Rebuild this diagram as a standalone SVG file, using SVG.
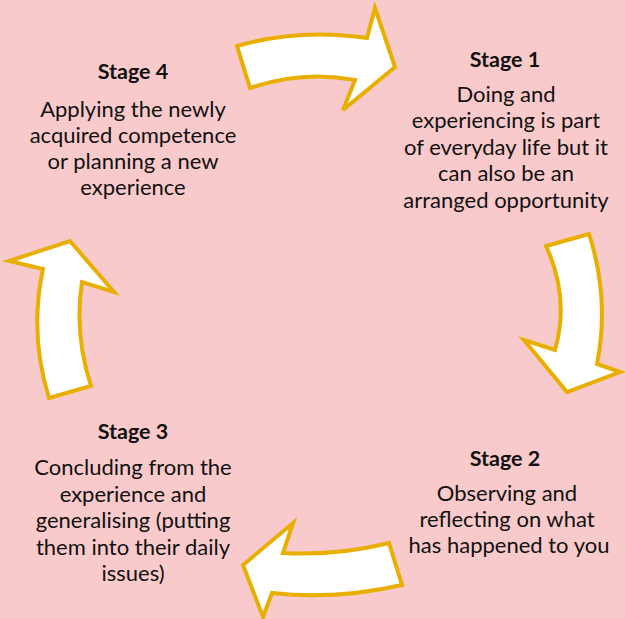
<svg xmlns="http://www.w3.org/2000/svg" width="625" height="619" viewBox="0 0 625 619">
<style>
.bg{fill:#F9CACB}
.arrow{fill:#FFFFFF;stroke:#E8AF00;stroke-width:4;stroke-linejoin:miter}
text{font-family:Lato,"Open Sans","Liberation Sans",sans-serif;fill:#111111;text-anchor:middle}
.h{font-weight:bold;font-size:21.5px}
.b{font-size:22px}
</style>
<rect class="bg" x="0" y="0" width="625" height="619"/>
<g id="connectors">
<path id="arrow1" class="arrow" d="M237,46 Q300,28 367,38 L375,8 L395,67 L343,110 L355,80 Q303,70 250,88 Z"/>
<path id="arrow2" class="arrow" d="M546,246 L589,234 Q610,299 597,364 L620,372 L567,392 L524,340 L555,350 Q570,298 546,246 Z"/>
<path id="arrow3" class="arrow" d="M389,543 L402,585 Q337,600 272,593 L263,617 L243,565 L293,523 L283,553 Q336,556 389,543 Z"/>
<path id="arrow4" class="arrow" d="M49,398 L91,386 Q74,334 82,282 L114,292 L70,241 L9,261 L43,269 Q29,334 49,398 Z"/>
</g>
<g id="stage1">
<text class="h" x="505" y="67">Stage 1</text>
<text class="b" x="506" y="102">Doing and</text>
<text class="b" x="506" y="128">experiencing is part</text>
<text class="b" x="506" y="155">of everyday life but it</text>
<text class="b" x="506" y="181">can also be an</text>
<text class="b" x="506" y="208">arranged opportunity</text>
</g>
<g id="stage2">
<text class="h" x="505" y="466">Stage 2</text>
<text class="b" x="507" y="501">Observing and</text>
<text class="b" x="507" y="527">reflecting on what</text>
<text class="b" x="509" y="553">has happened to you</text>
</g>
<g id="stage3">
<text class="h" x="133" y="439">Stage 3</text>
<text class="b" x="133" y="475">Concluding from the</text>
<text class="b" x="133" y="502">experience and</text>
<text class="b" x="133" y="528">generalising (putting</text>
<text class="b" x="133" y="555">them into their daily</text>
<text class="b" x="133" y="581">issues)</text>
</g>
<g id="stage4">
<text class="h" x="133" y="79">Stage 4</text>
<text class="b" x="133" y="117">Applying the newly</text>
<text class="b" x="133" y="143">acquired competence</text>
<text class="b" x="133" y="169">or planning a new</text>
<text class="b" x="133" y="195">experience</text>
</g>
</svg>
